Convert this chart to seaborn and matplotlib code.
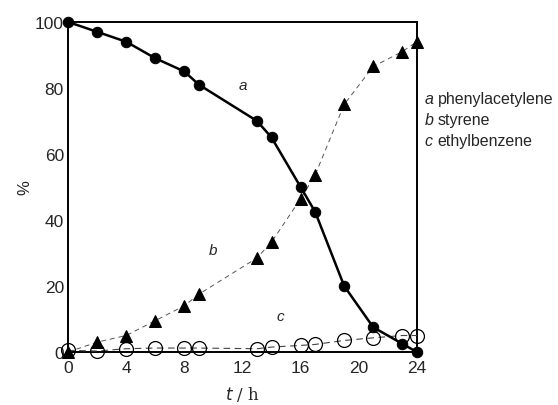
import numpy as np
import pandas as pd
import matplotlib
matplotlib.use("Agg")
import matplotlib.pyplot as plt
import seaborn as sns

# time points (h)
t = [0, 2, 4, 6, 8, 9, 13, 14, 16, 17, 19, 21, 23, 24]

# a phenylacetylene, b styrene, c ethylbenzene (%)
phenylacetylene = [100, 97, 94, 89, 85, 81, 70, 65, 50, 42.5, 20, 7.5, 2.5, 0]
styrene = [0, 3, 5, 9.5, 14, 17.5, 28.5, 33.3, 46.4, 53.6, 75, 86.5, 91, 94]
ethylbenzene = [0.5, 0.3, 1, 1.2, 1.2, 1.2, 1, 1.5, 2, 2.3, 3.5, 4.3, 5, 5]

xticks = [0, 4, 8, 12, 16, 20, 24]
yticks = [0, 20, 40, 60, 80, 100]

sns.set_style("white")
plt.rcParams["font.family"] = ["Liberation Sans", "DejaVu Sans"]

fig = plt.figure(figsize=(5.58, 4.06), dpi=100)
ax = fig.add_axes([0.122, 0.1305, 0.625, 0.813])

df = pd.DataFrame({"t": t, "a": phenylacetylene, "b": styrene, "c": ethylbenzene})

sns.lineplot(data=df, x="t", y="c", ax=ax, color="#444444", lw=0.8,
             linestyle=(0, (6, 4)), marker="o", markersize=10,
             markerfacecolor="none", markeredgecolor="black",
             markeredgewidth=0.9, clip_on=False, zorder=3)
sns.lineplot(data=df, x="t", y="b", ax=ax, color="#555555", lw=0.7,
             linestyle=(0, (5, 4)), marker="^", markersize=9,
             markerfacecolor="black", markeredgecolor="black",
             clip_on=False, zorder=4)
sns.lineplot(data=df, x="t", y="a", ax=ax, color="black", lw=1.8,
             marker="o", markersize=7.5, markerfacecolor="black",
             markeredgecolor="black", clip_on=False, zorder=5)

ax.set_xlim(0, 24)
ax.set_ylim(0, 100)
ax.set_xticks(xticks)
ax.set_yticks(yticks)
ax.tick_params(axis="both", length=0, labelsize=12.5)
ax.tick_params(axis="x", pad=6)
ax.tick_params(axis="y", pad=3)

for s in ax.spines.values():
    s.set_color("black")
    s.set_linewidth(1.4)

ax.set_xlabel("$t$ / h", fontsize=12, family="DejaVu Serif", labelpad=6)
ax.set_ylabel("%", fontsize=12, labelpad=2)

# curve labels
ax.text(12, 81, "a", style="italic", fontsize=11, ha="center", va="center")
ax.text(10, 31, "b", style="italic", fontsize=11, ha="center", va="center")
ax.text(14.6, 11, "c", style="italic", fontsize=11, ha="center", va="center")

# key at right
key = [("a", "phenylacetylene"), ("b", "styrene"), ("c", "ethylbenzene")]
for i, (k, name) in enumerate(key):
    y = 0.754 - i * 0.051
    fig.text(0.761, y, k, style="italic", fontsize=11.5, va="center")
    fig.text(0.784, y, name, fontsize=11.5, va="center")

fig.savefig("out.png", dpi=100)
